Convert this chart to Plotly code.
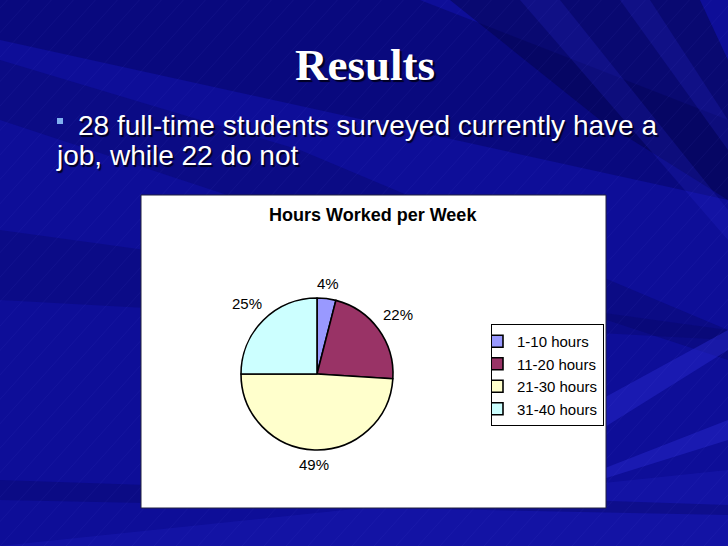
import math
import plotly.graph_objects as go

# ---- data ----
categories = ["1-10 hours", "11-20 hours", "21-30 hours", "31-40 hours"]
percent_values = [4, 22, 49, 25]
slice_colors = ["#9999FF", "#993366", "#FFFFCC", "#CCFFFF"]

slide_title = "Results"
bullet_lines = ["28 full-time students surveyed currently have a", "job, while 22 do not"]
chart_title = "Hours Worked per Week"

W, H = 728, 546


def px(x):
    return x / W


def py(y):
    return 1 - y / H


# pie geometry (pixels)
PIE_CX, PIE_CY, PIE_R = 317, 374, 76

fig = go.Figure()

fig.add_trace(go.Pie(
    labels=categories,
    values=percent_values,
    sort=False,
    direction="clockwise",
    rotation=0,
    marker=dict(colors=slice_colors, line=dict(color="black", width=1.6)),
    textinfo="none",
    domain=dict(x=[px(PIE_CX - PIE_R), px(PIE_CX + PIE_R)],
                y=[py(PIE_CY + PIE_R), py(PIE_CY - PIE_R)]),
    hoverinfo="label+percent",
))

shapes = []


def poly(pts, color, opacity):
    path = "M " + " L ".join(f"{px(x)},{py(y)}" for x, y in pts) + " Z"
    return dict(type="path", xref="paper", yref="paper", path=path,
                fillcolor=color, opacity=opacity, line=dict(width=0), layer="below")


# background bands (decoration)
shapes += [
    poly([(0, 0), (420, 0), (728, 120), (728, 200), (0, 40)], "#050560", 0.45),
    poly([(0, 60), (300, 150), (728, 330), (728, 360), (0, 120)], "#050560", 0.35),
    poly([(0, 230), (728, 330), (728, 340), (0, 300)], "#050560", 0.3),
    poly([(450, 0), (700, 0), (728, 60), (728, 200), (600, 120)], "#03034a", 0.5),
    poly([(520, 0), (560, 0), (728, 210), (728, 240)], "#2a2ad0", 0.22),
    poly([(620, 0), (650, 0), (728, 120), (728, 150)], "#2a2ad0", 0.22),
    poly([(600, 400), (728, 330), (728, 350), (600, 430)], "#2a2ad0", 0.45),
    poly([(600, 470), (728, 420), (728, 440), (600, 480)], "#2a2ad0", 0.45),
    poly([(0, 546), (728, 470), (728, 546)], "#2020c0", 0.3),
    poly([(0, 480), (728, 505), (728, 515), (0, 500)], "#050560", 0.35),
]

# thin diagonal streaks
for i in range(-30, 60):
    x0 = i * 22
    shapes.append(dict(type="line", xref="paper", yref="paper",
                       x0=px(x0), y0=py(546), x1=px(x0 + 546 * 0.9), y1=py(0),
                       line=dict(color="#8080ff", width=0.6), opacity=0.1, layer="below"))

# chart area box
shapes.append(dict(type="rect", xref="paper", yref="paper",
                   x0=px(141), x1=px(606), y0=py(508), y1=py(195),
                   fillcolor="white", line=dict(color="#202040", width=1), layer="below"))

# bullet square
shapes.append(dict(type="rect", xref="paper", yref="paper",
                   x0=px(57), x1=px(63), y0=py(124), y1=py(118),
                   fillcolor="#80B0F0", line=dict(width=0)))

annotations = []

# slide title
annotations.append(dict(text=f"<b>{slide_title}</b>", xref="paper", yref="paper",
                        x=px(365), y=py(64.5), xanchor="center", yanchor="middle",
                        showarrow=False,
                        font=dict(family="Liberation Serif, Times New Roman", size=45, color="white",
                                  shadow="2px 2px 1px #000022")))

# bullet text
line_pos = [(76, 125.5), (54, 155.5)]
for (lx, ly), txt in zip(line_pos, bullet_lines):
    annotations.append(dict(text=txt, xref="paper", yref="paper",
                            x=px(lx), y=py(ly), xanchor="left", yanchor="middle",
                            showarrow=False,
                            font=dict(family="Liberation Sans, Arial", size=28, color="white",
                                      shadow="1.5px 1.5px 1px #000022")))

# chart title
annotations.append(dict(text=f"<b>{chart_title}</b>", xref="paper", yref="paper",
                        x=px(373), y=py(215), xanchor="center", yanchor="middle",
                        showarrow=False,
                        font=dict(family="Liberation Sans, Arial", size=18, color="black")))

# percentage labels outside the slices, placed from the slice angles
total = sum(percent_values)
cum = 0.0
for v in percent_values:
    mid = (cum + v / 2) / total * 2 * math.pi
    cum += v
    s, c = math.sin(mid), math.cos(mid)
    r = PIE_R + 14 + 13 * abs(s)
    lx = PIE_CX + r * s
    ly = PIE_CY - r * c
    annotations.append(dict(text=f"{round(v / total * 100)}%", xref="paper", yref="paper",
                            x=px(lx), y=py(ly), xanchor="center", yanchor="middle",
                            showarrow=False,
                            font=dict(family="Liberation Sans, Arial", size=15, color="black")))

fig.update_layout(
    width=W, height=H,
    margin=dict(l=0, r=0, t=0, b=0),
    paper_bgcolor="#0E0E98",
    plot_bgcolor="#0E0E98",
    shapes=shapes,
    annotations=annotations,
    showlegend=True,
    legend=dict(
        x=px(491), y=py(324), xanchor="left", yanchor="top",
        bgcolor="white", bordercolor="black", borderwidth=1,
        font=dict(family="Liberation Sans, Arial", size=15, color="black"),
        itemwidth=30, traceorder="normal", indentation=-15,
    ),
)

fig.write_html("out.html", config={"displayModeBar": False},
               post_script="document.body.style.margin='0';")
